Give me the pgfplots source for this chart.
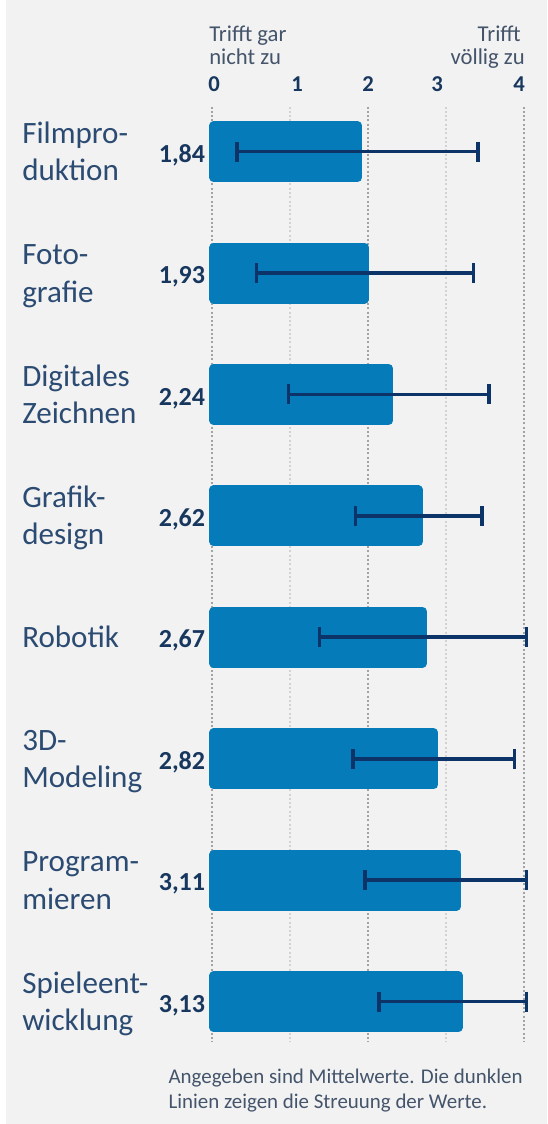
\documentclass[border=0pt]{standalone}
\usepackage{fontspec}
\setmainfont{Carlito}
\usepackage{pgfplots}
\pgfplotsset{compat=1.18}
\usepackage{pgfplotstable}
\usetikzlibrary{backgrounds}
\definecolor{bgc}{HTML}{F2F2F2}
\definecolor{barc}{HTML}{067BB9}
\definecolor{errc}{HTML}{0C3468}
\definecolor{valc}{HTML}{17375E}
\definecolor{catc}{HTML}{2C4B72}
\definecolor{notec}{HTML}{44546A}
\definecolor{gridd}{HTML}{A3A3A3}
\definecolor{gridl}{HTML}{D2D2D2}
\newcommand\cat[1]{\begin{tabular}{@{}l@{}}#1\end{tabular}}
\pgfplotstableread{
y mean lo hi
0 1.84 0.32 3.41
1 1.93 0.57 3.35
2 2.24 0.98 3.55
3 2.62 1.84 3.46
4 2.67 1.38 4.03
5 2.82 1.81 3.88
6 3.11 1.96 4.03
7 3.13 2.14 4.03
}\data
\begin{document}
\begin{tikzpicture}
\begin{axis}[
  scale only axis, width=234pt, height=701.25pt,
  xmin=0, xmax=4, ymin=-0.37, ymax=7.33, y dir=reverse,
  clip=false,
  axis line style={draw=none}, tick style={draw=none},
  major tick length=0pt,
  xtick={0,2,4}, xticklabels={{\hspace*{3pt}0},2,{4\hspace*{7.5pt}}},
  extra x ticks={1,3}, extra x tick labels={{\hspace*{10.5pt}1},{3\hspace*{13.5pt}}},
  xticklabel pos=right,
  xmajorgrids,
  major grid style={color=gridd, line width=1.6pt, dash pattern=on 1.5pt off 1.7pt},
  extra x tick style={major grid style={color=gridl, line width=1.6pt, dash pattern=on 1.5pt off 1.7pt}},
  /pgf/number format/assume math mode=true,
  xticklabel style={font=\fontsize{17}{17}\selectfont\bfseries, text=valc, anchor=south, inner sep=0pt},
  xticklabel shift=11.25pt,
  ytick={0,...,7},
  yticklabels={{\cat{Filmpro-\\duktion}},{\cat{Foto-\\grafie}},{\cat{Digitales\\Zeichnen}},{\cat{Grafik-\\design}},{\cat{Robotik}},{\cat{3D-\\Modeling}},{\cat{Program-\\mieren}},{\cat{Spieleent-\\wicklung}}},
  yticklabel style={font=\fontsize{23.3}{27.9}\selectfont, text=catc, anchor=west, inner sep=0pt, xshift=-142.5pt, yshift=-2.2pt},
]
\addplot[xbar, fill=barc, draw=barc, line width=6.75pt, line join=round, bar width=39pt, xshift=1.5pt] table[x=mean,y=y]{\data};
\addplot[draw=none, mark=none,
  error bars/.cd, x dir=both, x explicit, error mark=|,
  error bar style={draw=errc, line width=2.8pt},
  error mark options={draw=errc, line width=2.6pt, mark size=7.5pt}]
  table[x=mean, y=y, x error plus expr=\thisrow{hi}-\thisrow{mean}, x error minus expr=\thisrow{mean}-\thisrow{lo}]{\data};
\addplot[draw=none, mark=none, point meta=explicit,
  nodes near coords={\pgfmathprintnumber[fixed, fixed zerofill, precision=2, use comma]{\pgfplotspointmeta}},
  every node near coord/.style={anchor=base east, inner sep=0pt, xshift=-5pt, yshift=-7.9pt, font=\fontsize{19.5}{19.5}\selectfont\bfseries, text=valc}]
  table[x expr=0, y=y, meta=mean]{\data};
\coordinate (O) at (axis cs:0,-0.37);
\end{axis}
\begin{scope}[shift={(O)}, xshift=-159pt, yshift=80.025pt, x=0.75pt, y=-0.75pt]
  \begin{scope}[on background layer]
    \fill[white] (0,0) rectangle (547,1124);
    \fill[bgc] (6,0) rectangle (547,1124);
  \end{scope}
  \begin{scope}[font=\fontsize{17}{19}\selectfont, text=notec, inner sep=0pt]
    \node[anchor=base west] at (209,41.7) {Trifft gar};
    \node[anchor=base west] at (209,65) {nicht zu};
    \node[anchor=base east] at (521,41.7) {Trifft};
    \node[anchor=base east] at (525,65) {völlig zu};
  \end{scope}
  \begin{scope}[font=\fontsize{15.7}{18}\selectfont, text=notec, inner sep=0pt]
    \node[anchor=base west] at (168.3,1084) {Angegeben sind Mittelwerte. Die dunklen};
    \node[anchor=base west] at (168.3,1108) {Linien zeigen die Streuung der Werte.};
  \end{scope}
  \pgfresetboundingbox
  \path[use as bounding box] (0,0) rectangle (547,1124);
\end{scope}
\end{tikzpicture}
\end{document}
